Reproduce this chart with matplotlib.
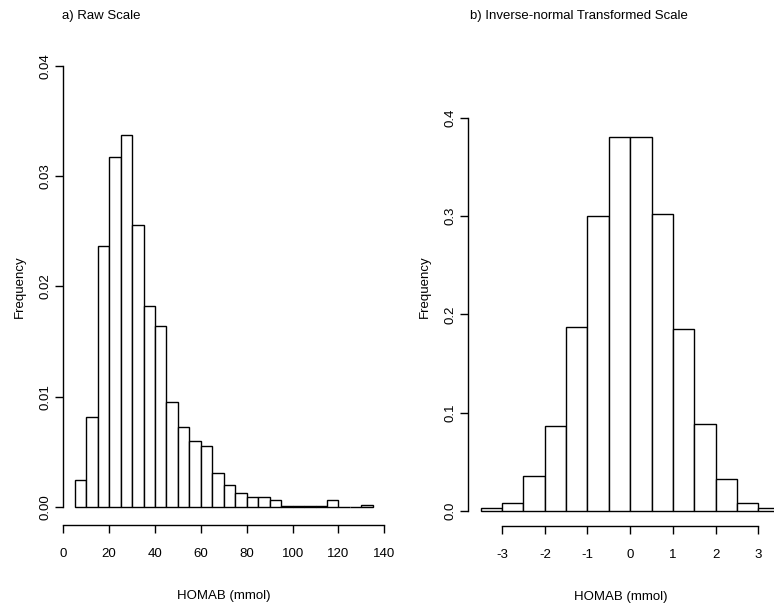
import matplotlib
matplotlib.use("Agg")
import matplotlib.pyplot as plt
import numpy as np

plt.rcParams['font.family'] = ['Liberation Sans', 'DejaVu Sans']
plt.rcParams['font.size'] = 9.5

# a) raw scale: bins of width 5 from 5 to 135
raw_edges = np.arange(5, 140, 5)
raw_density = [0.00245, 0.0082, 0.0237, 0.0317, 0.0337, 0.0256, 0.0182, 0.0164,
               0.0095, 0.0073, 0.0060, 0.0055, 0.0031, 0.0020, 0.0013, 0.0009,
               0.0009, 0.0006, 0.0001, 0.0001, 0.0001, 0.0001, 0.0006, 0.0,
               0.0, 0.0002]
raw_xticks = [0, 20, 40, 60, 80, 100, 120, 140]
raw_yticks = [0.00, 0.01, 0.02, 0.03, 0.04]
raw_ylabels = ["0.00", "0.01", "0.02", "0.03", "0.04"]

# b) inverse-normal scale: bins of width 0.5 from -3.5 to 3.5
inv_edges = np.arange(-3.5, 3.75, 0.5)
inv_density = [0.003, 0.0085, 0.0355, 0.086, 0.187, 0.300, 0.381, 0.381,
               0.302, 0.185, 0.0885, 0.033, 0.0085, 0.003]
inv_xticks = [-3, -2, -1, 0, 1, 2, 3]
inv_yticks = [0.0, 0.1, 0.2, 0.3, 0.4]
inv_ylabels = ["0.0", "0.1", "0.2", "0.3", "0.4"]

W, H = 774, 609
fig = plt.figure(figsize=(W / 100, H / 100), dpi=100)


def px_axes(x0, y0, x1, y1):
    # pixel box (top-left origin) -> figure axes
    return fig.add_axes([x0 / W, 1 - y1 / H, (x1 - x0) / W, (y1 - y0) / H])


def r_style(ax, xticks, yticks, ylabels):
    for s in ["top", "right"]:
        ax.spines[s].set_visible(False)
    ax.spines["left"].set_bounds(yticks[0], yticks[-1])
    ax.spines["bottom"].set_bounds(xticks[0], xticks[-1])
    for s in ["left", "bottom"]:
        ax.spines[s].set_linewidth(1.0)
    ax.set_xticks(xticks)
    ax.set_xticklabels([str(t) for t in xticks])
    ax.set_yticks(yticks)
    ax.set_yticklabels(ylabels, rotation=90, va="center")
    ax.tick_params(direction="out", length=5.5, width=1.0, labelsize=9.5)
    ax.tick_params(axis="x", pad=11)
    ax.tick_params(axis="y", pad=2.5)
    ax.set_xlabel("HOMAB (mmol)", fontsize=9.5, labelpad=22)
    ax.set_ylabel("Frequency", fontsize=9.5, labelpad=10)


ax1 = px_axes(62.8, 48, 384.8, 525)
ax1.bar(raw_edges[:-1], raw_density, width=5, align="edge",
        color="white", edgecolor="black", linewidth=1.0)
ax1.set_xlim(-0.2, 140.2)
ax1.set_ylim(-0.00163, 0.04163)
r_style(ax1, raw_xticks, raw_yticks, raw_ylabels)
fig.text(62 / W, 1 - 16 / H, "a) Raw Scale", fontsize=9.5, ha="left", va="center")

ax2 = px_axes(468, 48, 774, 526)
ax2.bar(inv_edges[:-1], inv_density, width=0.5, align="edge",
        color="white", edgecolor="black", linewidth=1.0)
ax2.set_xlim(-3.80, 3.37)
ax2.set_ylim(-0.0153, 0.4712)
r_style(ax2, inv_xticks, inv_yticks, inv_ylabels)
fig.text(470 / W, 1 - 16 / H, "b) Inverse-normal Transformed Scale", fontsize=9.5,
         ha="left", va="center")

fig.savefig("out.png", dpi=100)
